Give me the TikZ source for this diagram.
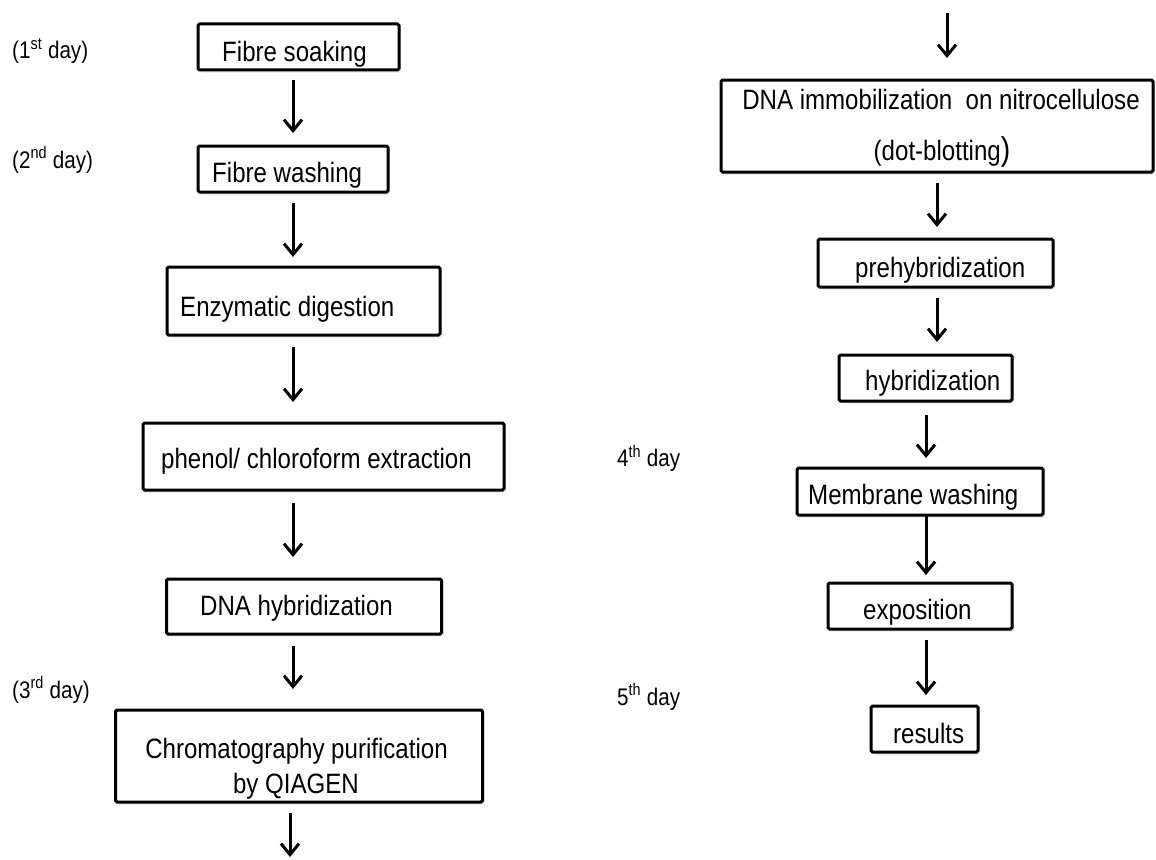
\documentclass[tikz,border=0pt]{standalone}
\usepackage{fontspec}
\setmainfont{Liberation Sans}[FakeStretch=0.86]
\usetikzlibrary{arrows.meta,shadows,calc}

\tikzset{
  stepbox/.style={draw=black, line width=3pt, fill=white, rounded corners=1.5pt,
    inner sep=0pt, outer sep=0pt,
    drop shadow={opacity=0.18, shadow xshift=2pt, shadow yshift=-2.5pt}},
  steptext/.style={inner sep=0pt, anchor=base west, text=black,
    font=\fontsize{28}{33}\selectfont},
  daytext/.style={inner sep=0pt, anchor=base west, text=black,
    font=\fontsize{24}{28}\selectfont},
  arr/.style={line width=3pt, draw=black,
    -{Straight Barb[length=11pt,width=18pt,line width=3pt]}},
}

\begin{document}
\begin{tikzpicture}[x=1pt, y=-1pt]
\useasboundingbox (0,0) rectangle (1156,859);

% ---------- left column: fibre preparation ----------
\node[stepbox, minimum width=201, minimum height=46] (soak)  at (298.5,47)  {};
\node[stepbox, minimum width=190, minimum height=46] (wash)  at (293,169)   {};
\node[stepbox, minimum width=273, minimum height=68] (enz)   at (303.5,301) {};
\node[stepbox, minimum width=361, minimum height=67] (phen)  at (323.5,456.5) {};
\node[stepbox, minimum width=275, minimum height=55] (dnah)  at (304,606.5) {};
\node[stepbox, minimum width=367, minimum height=92] (chrom) at (299,756)   {};

\node[steptext] (tsoak)  at (222,62)    {Fibre soaking};
\node[steptext] (twash)  at (212,182.5) {Fibre washing};
\node[steptext] (tenz)   at (180,316.5) {Enzymatic digestion};
\node[steptext] (tphen)  at (161,468)   {phenol/ chloroform extraction};
\node[steptext] (tdnah)  at (200,615)   {DNA hybridization};
\node[steptext, anchor=base] (tchromA) at (296.5,758) {Chromatography purification};
\node[steptext, anchor=base] (tchromB) at (296,793)   {by QIAGEN};

\node[daytext] (d1) at (12,59)  {(1\textsuperscript{st} day)};
\node[daytext] (d2) at (12,168) {(2\textsuperscript{nd} day)};
\node[daytext] (d3) at (12,698) {(3\textsuperscript{rd} day)};

\draw[arr] (soak.south)  ++(-5.5,10) -- ++(0,53);
\draw[arr] (wash.south)  ++(0,11)    -- ++(0,54);
\draw[arr] (enz.south)   ++(-10.5,12) -- ++(0,55);
\draw[arr] (phen.south)  ++(-30.5,13) -- ++(0,54);
\draw[arr] (dnah.south)  ++(-11,12)  -- ++(0,43);
\coordinate (leftout) at (290,857);
\draw[arr] ($(chrom.south -| leftout)+(0,11)$) -- (leftout);

% ---------- right column: dot-blot detection ----------
\node[stepbox, minimum width=432, minimum height=92] (imm)    at (937,126)   {};
\node[stepbox, minimum width=235, minimum height=48] (prehyb) at (935.5,263) {};
\node[stepbox, minimum width=173, minimum height=46] (hybr)   at (925.5,378) {};
\node[stepbox, minimum width=246, minimum height=47] (memb)   at (920,491.5) {};
\node[stepbox, minimum width=184, minimum height=46] (expo)   at (920,606)   {};
\node[stepbox, minimum width=107, minimum height=46] (res)    at (924.5,729) {};

\node[steptext, anchor=base] (timmA) at (941,109) {DNA immobilization\ \ on nitrocellulose};
\node[steptext, anchor=base] (timmB) at (942,160) {(dot-blotting{\fontsize{33}{33}\selectfont)}};
\node[steptext] (tprehyb) at (855,277)   {prehybridization};
\node[steptext] (thybr)   at (865,390.5) {hybridization};
\node[steptext] (tmemb)   at (808,504)   {Membrane washing};
\node[steptext] (texpo)   at (863,619)   {exposition};
\node[steptext] (tres)    at (893,743)   {results};

\node[daytext] (d4) at (617,466.5) {4\textsuperscript{th} day};
\node[daytext] (d5) at (617,705)   {5\textsuperscript{th} day};

\coordinate (rightin) at (947,13);
\draw[arr] (rightin) -- ($(rightin |- imm.north)+(0,-22)$);
\draw[arr] (imm.south)    ++(0,11)    -- ++(0,44);
\draw[arr] (prehyb.south) ++(1.5,11)  -- ++(0,44);
\draw[arr] (hybr.south)   ++(0.5,14)  -- ++(0,43);
\draw[arr] (memb.south)   ++(6,0)     -- ++(0,60);
\draw[arr] (expo.south)   ++(6,11)    -- ++(0,55);
\end{tikzpicture}
\end{document}
